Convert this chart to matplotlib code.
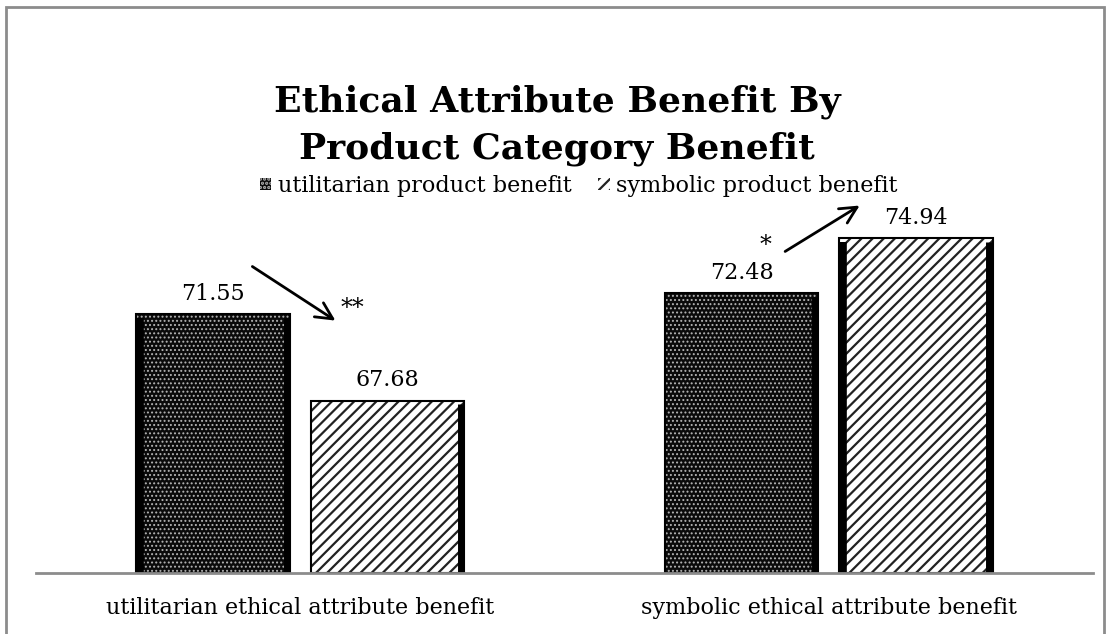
import matplotlib
matplotlib.use("Agg")
import matplotlib.pyplot as plt
import numpy as np
from matplotlib.patches import Rectangle

categories = ["utilitarian ethical attribute benefit", "symbolic ethical attribute benefit"]
series_names = ["utilitarian product benefit", "symbolic product benefit"]
utilitarian_vals = [71.55, 72.48]
symbolic_vals = [67.68, 74.94]
title = "Ethical Attribute Benefit By\nProduct Category Benefit"
# significance annotations: (text, arrow start, arrow end, text position) in data units
sig_labels = ["**", "*"]
arrow_starts = [(-0.095, 73.75), (0.913, 74.29)]
arrow_ends = [(0.071, 71.2), (1.063, 76.47)]
sig_pos = [(0.098, 71.8), (0.881, 74.6)]

plt.rcParams['font.family'] = ['DejaVu Serif']

fig = plt.figure(figsize=(11.14, 6.34), dpi=100)
ax = fig.add_axes([36/1114, 1-573/634, (1093-36)/1114, (573-125)/634])

x = np.arange(len(categories))
w = 0.29
off = 0.165

plt.rcParams['hatch.linewidth'] = 0.9
b1 = ax.bar(x - off, [v - 60 for v in utilitarian_vals], w, bottom=60, color='#0a0a0a',
            edgecolor='#b4b4b4', hatch='....', linewidth=0, label=series_names[0], zorder=2)
for r in b1:
    if hasattr(r, 'set_hatch_linewidth'):
        r.set_hatch_linewidth(0.9)
plt.rcParams['hatch.linewidth'] = 1.6
b2 = ax.bar(x + off, [v - 60 for v in symbolic_vals], w, bottom=60, color='white',
            edgecolor='#222222', hatch='///', linewidth=0, label=series_names[1], zorder=2)
for r in b2:
    if hasattr(r, 'set_hatch_linewidth'):
        r.set_hatch_linewidth(1.6)
# outlines
for bars in (b1, b2):
    for r in bars:
        ax.add_patch(Rectangle(r.get_xy(), r.get_width(), r.get_height(), fill=False,
                               edgecolor='black', linewidth=1.5, zorder=3))
# thick side edges
for r in list(b1) + list(b2):
    xr = r.get_x() + r.get_width(); top = r.get_y() + r.get_height()
    ax.vlines(xr - 0.006, 60, top - 0.15, color='black', lw=5, zorder=4)
for r in (b1[0], b2[1]):
    ax.vlines(r.get_x() + 0.007, 60, r.get_y() + r.get_height() - 0.15, color='black', lw=5.5, zorder=4)

# value labels
for bars, vals in ((b1, utilitarian_vals), (b2, symbolic_vals)):
    for r, v in zip(bars, vals):
        ax.annotate(f"{v:.2f}", (r.get_x() + r.get_width()/2, v), xytext=(0, 7),
                    textcoords='offset points', ha='center', va='bottom', fontsize=16)

# arrows and significance marks
for s, a0, a1, p in zip(sig_labels, arrow_starts, arrow_ends, sig_pos):
    ax.annotate("", xy=a1, xytext=a0,
                arrowprops=dict(arrowstyle='->', lw=2, color='black', mutation_scale=30))
    ax.text(p[0], p[1], s, ha='center', va='center', fontsize=17)

ax.set_xlim(-0.5, 1.5)
ax.set_ylim(60, 80)
ax.set_xticks(x)
ax.set_xticklabels(categories, fontsize=16)
ax.tick_params(axis='x', length=0, pad=17)
ax.set_yticks([])
for s in ('top', 'right', 'left'):
    ax.spines[s].set_visible(False)
ax.spines['bottom'].set_color('#8c8c8c')
ax.spines['bottom'].set_linewidth(2)
ax.spines['bottom'].set_zorder(5)

fig.text(0.5, 1-125/634, title, ha='center', va='center', fontsize=26,
         fontweight='bold', linespacing=1.45)

fig.legend(handles=[b1, b2], loc='center', bbox_to_anchor=(579/1114, 1-186/634), ncol=2,
           frameon=False, fontsize=16, handlelength=0.5, handleheight=0.5,
           handletextpad=0.3, columnspacing=1.2, borderpad=0.1)

fig.patches.append(Rectangle((6/1114, -0.05), (1104-6)/1114, 1.05 - 7/634, fill=False,
                             edgecolor='#8c8c8c', linewidth=2, transform=fig.transFigure,
                             figure=fig))

fig.savefig("out.png", dpi=100)
